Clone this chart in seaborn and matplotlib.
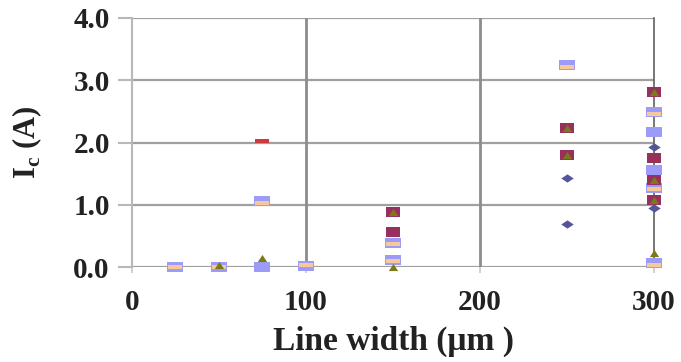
import matplotlib
matplotlib.use("Agg")
import matplotlib.pyplot as plt
from matplotlib.path import Path
import seaborn as sns
import pandas as pd

# ---- data ----
diamond_x = [250, 250, 300, 300]
diamond_y = [1.43, 0.69, 1.93, 0.95]

maroon_x = [150, 150, 250, 250, 300, 300, 300, 300]
maroon_y = [0.88, 0.56, 2.23, 1.80, 2.81, 1.75, 1.40, 1.08]

olive_x = [50, 75, 150, 150, 250, 250, 300, 300, 300, 300]
olive_y = [0.03, 0.14, 0.88, 0.00, 2.23, 1.80, 2.81, 1.40, 1.08, 0.22]

blue_x = [25, 50, 75, 75, 100, 150, 150, 250, 300, 300, 300, 300, 300]
blue_y = [0.00, 0.00, 1.06, 0.00, 0.02, 0.39, 0.11, 3.24, 2.49, 2.17, 1.56, 1.27, 0.06]

peach_x = [25, 50, 75, 100, 150, 150, 250, 300, 300, 300]
peach_y = [0.00, 0.00, 1.03, 0.03, 0.37, 0.10, 3.22, 2.46, 1.25, 0.04]

red_x = [75]
red_y = [2.02]

x_ticks = [0, 100, 200, 300]
y_ticks = [0.0, 1.0, 2.0, 3.0, 4.0]

# ---- marker shapes (stretched horizontally like the reference) ----
rect = Path([(-1.5, -1), (1.5, -1), (1.5, 1), (-1.5, 1), (-1.5, -1)],
            [Path.MOVETO, Path.LINETO, Path.LINETO, Path.LINETO, Path.CLOSEPOLY])
diam = Path([(0, -1), (1.5, 0), (0, 1), (-1.5, 0), (0, -1)],
            [Path.MOVETO, Path.LINETO, Path.LINETO, Path.LINETO, Path.CLOSEPOLY])
tri = Path([(-1.3, -1), (1.3, -1), (0, 1), (-1.3, -1)],
           [Path.MOVETO, Path.LINETO, Path.LINETO, Path.CLOSEPOLY])
dash = Path([(-1.7, -0.45), (1.7, -0.45), (1.7, 0.45), (-1.7, 0.45), (-1.7, -0.45)],
            [Path.MOVETO, Path.LINETO, Path.LINETO, Path.LINETO, Path.CLOSEPOLY])

sns.set_theme(style="white")
plt.rcParams['font.family'] = ['Liberation Serif', 'DejaVu Serif']
plt.rcParams['font.weight'] = 'bold'
plt.rcParams['mathtext.fontset'] = 'custom'
plt.rcParams['mathtext.bf'] = 'Liberation Serif:bold'
plt.rcParams['mathtext.rm'] = 'Liberation Serif:bold'

fig = plt.figure(figsize=(6.81, 3.62), dpi=100)
ax = fig.add_axes([0.1938, 0.2624, 0.9604 - 0.1938, 0.9503 - 0.2624])

series = [
    (blue_x, blue_y, rect, "#9c9cf8", 130),
    (peach_x, peach_y, dash, "#f7c89a", 95),
    (maroon_x, maroon_y, rect, "#98305e", 100),
    (olive_x, olive_y, tri, "#7a7a18", 45),
    (diamond_x, diamond_y, diam, "#55559a", 80),
    (red_x, red_y, dash, "#cc3b3b", 115),
]
for xs, ys, mk, col, s in series:
    df = pd.DataFrame({"w": xs, "i": ys})
    sns.scatterplot(data=df, x="w", y="i", marker=mk, color=col, s=s,
                    linewidth=0, ax=ax, zorder=3, clip_on=False)

ax.set_xlim(0, 300)
ax.set_ylim(0, 4.0)
ax.set_xticks(x_ticks)
ax.set_yticks(y_ticks)
ax.set_yticklabels([f"{v:.1f}" for v in y_ticks])

for v in y_ticks:
    ax.axhline(v, color="#a0a0a0", lw=1.6, zorder=1)
for v in [100, 200]:
    ax.axvline(v, color="#8c8c8c", lw=2.0, zorder=1)

for side in ["top", "bottom"]:
    ax.spines[side].set_visible(False)
ax.spines["left"].set_color("#b8b8b8")
ax.spines["left"].set_linewidth(1.5)
ax.spines["right"].set_color("#606060")
ax.spines["right"].set_linewidth(1.2)

ax.tick_params(axis="y", direction="out", length=10, width=1.5, color="#b8b8b8",
               pad=6, labelsize=21, labelcolor="#222222")
ax.tick_params(axis="x", direction="out", length=4, width=1.2, color="#c8c8c8",
               pad=12, labelsize=21, labelcolor="#222222")
ax.tick_params(left=True, bottom=True)
for lab in ax.get_xticklabels() + ax.get_yticklabels():
    lab.set_fontweight("bold")

ax.set_xlabel("Line width (μm )", fontsize=24, fontweight="bold", color="#222222")
ax.xaxis.set_label_coords(0.5, -0.297)
ax.xaxis.label.set_verticalalignment("center")
ax.set_ylabel(r"I$_\mathbf{c}$ (A)", fontsize=22, fontweight="bold", color="#222222")
ax.yaxis.set_label_coords(-0.20, 0.5)
ax.yaxis.label.set_verticalalignment("center")

fig.savefig("out.png", dpi=100, facecolor="white")
